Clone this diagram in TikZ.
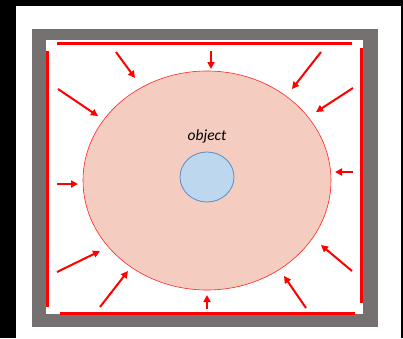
\documentclass[tikz,border=0pt]{standalone}
\usepackage{fontspec}
\setmainfont{Carlito}
\usetikzlibrary{arrows.meta, shapes.geometric}
\definecolor{wallgray}{RGB}{118, 113, 113}
\definecolor{fieldpink}{RGB}{244, 204, 192}
\definecolor{objblue}{RGB}{189, 215, 238}
\definecolor{objedge}{RGB}{91, 140, 200}
\begin{document}
\begin{tikzpicture}[x=1pt, y=-1pt,
  wall/.style={draw=red, line width=3pt},
  push/.style={draw=red, line width=2pt, -{Triangle[length=7pt, width=7pt]}}
]
  % page and frame
  \fill[black] (0,0) rectangle (403,338);
  \fill[white] (16,6) rectangle (401,338);
  \fill[wallgray] (32,29) rectangle (378,327);
  \fill[white] (46,40) rectangle (363,314);
  % red walls
  \draw[wall] (57,43) -- (352,43);
  \draw[wall] (47,51) -- (47,307);
  \draw[wall] (361,48) -- (361,303);
  \draw[wall] (60,313) -- (355,313);
  % field and object
  \node[ellipse, draw=red!85, fill=fieldpink, line width=0.6pt,
        minimum width=248pt, minimum height=219pt] (field) at (207,180.5) {};
  \node[ellipse, draw=objedge, fill=objblue, line width=0.8pt,
        minimum width=54pt, minimum height=50pt] (obj) at (207,177) {};
  \node[font=\fontsize{15.5}{18}\selectfont\itshape] (objlabel) at (207,136) {object};
  % arrows pushing in from the walls
  \foreach \sx/\sy/\ex/\ey [count=\i] in {
      211/51/211/69, 116/52/135/78, 58/89/98/116, 321/52/292/89,
      353/88/316/112, 353/172/335/172, 57/184/78/184, 352/271/321/245,
      57/272/100/251, 100/307/128/271, 207/309/207/295, 306/308/284/276} {
    \coordinate (s\i) at (\sx,\sy);
    \coordinate (e\i) at (\ex,\ey);
    \draw[push] (s\i) -- (e\i);
  }
\end{tikzpicture}
\end{document}
